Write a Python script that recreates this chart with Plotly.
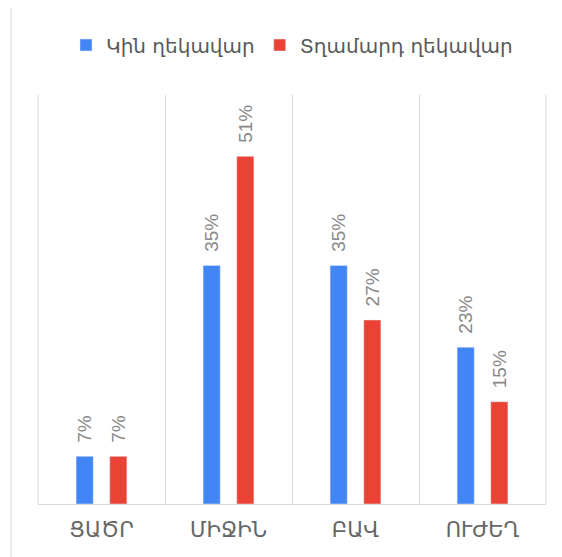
import plotly.graph_objects as go

categories = ["ՑԱԾՐ", "ՄԻՋԻՆ", "ԲԱՎ", "ՈՒԺԵՂ"]
women = [7, 35, 35, 23]
men = [7, 51, 27, 15]
series_names = ["Կին ղեկավար", "Տղամարդ ղեկավար"]

OFF = 8  # page body margin
W, H = 562 - OFF, 557 - OFF
# screen-pixel layout of the plot area
left, right, top, bottom = 38, 546, 95, 504
ml, mt = left - OFF, top - OFF
mr, mb = W - (right - OFF), H - (bottom - OFF)
pw, ph = right - left, bottom - top


def px_x(p):
    return (p - left) / pw


def px_y(p):
    return (bottom - p) / ph


label_font = dict(color="#888888", size=19, family="Liberation Sans, Arial")
PAD = "\u00a0\u00a0"

fig = go.Figure()
fig.add_trace(go.Bar(
    x=categories, y=women, name=series_names[0],
    marker_color="#4285F4",
    text=[f"{PAD}{v}%" for v in women], textposition="outside", textangle=-90,
    textfont=label_font, constraintext="none", cliponaxis=False,
))
fig.add_trace(go.Bar(
    x=categories, y=men, name=series_names[1],
    marker_color="#EA4335",
    text=[f"{PAD}{v}%" for v in men], textposition="outside", textangle=-90,
    textfont=label_font, constraintext="none", cliponaxis=False,
))

fig.update_layout(
    width=W, height=H,
    margin=dict(l=ml, r=mr, t=mt, b=mb, pad=0),
    paper_bgcolor="white", plot_bgcolor="white",
    barmode="group", bargap=0.47, bargroupgap=0.49,
    font=dict(family="DejaVu Sans", color="#595959"),
    showlegend=True,
    legend=dict(orientation="h", x=0.5, xanchor="center", y=px_y(45), yanchor="middle",
                font=dict(size=20, color="#595959"), itemwidth=30,
                traceorder="normal"),
    xaxis=dict(showgrid=True, tickson="boundaries", gridcolor="#d9d9d9", gridwidth=1,
               showline=True, linecolor="#d9d9d9", mirror=False,
               ticks="", tickfont=dict(size=21, color="#666666"), ticklabelstandoff=7),
    yaxis=dict(range=[0, 60], showgrid=False, zeroline=False, showticklabels=False,
               ticks=""),
    shapes=[
        dict(type="rect", xref="paper", yref="paper",
             x0=px_x(11), x1=px_x(570), y0=px_y(570), y1=px_y(6),
             line=dict(color="#d9d9d9", width=1), fillcolor="rgba(0,0,0,0)", layer="below"),
        dict(type="line", xref="paper", yref="paper",
             x0=0, x1=0, y0=0, y1=1, line=dict(color="#d9d9d9", width=1)),
        dict(type="line", xref="paper", yref="paper",
             x0=1, x1=1, y0=0, y1=1, line=dict(color="#d9d9d9", width=1)),
    ],
)

fig.write_html("out.html")
